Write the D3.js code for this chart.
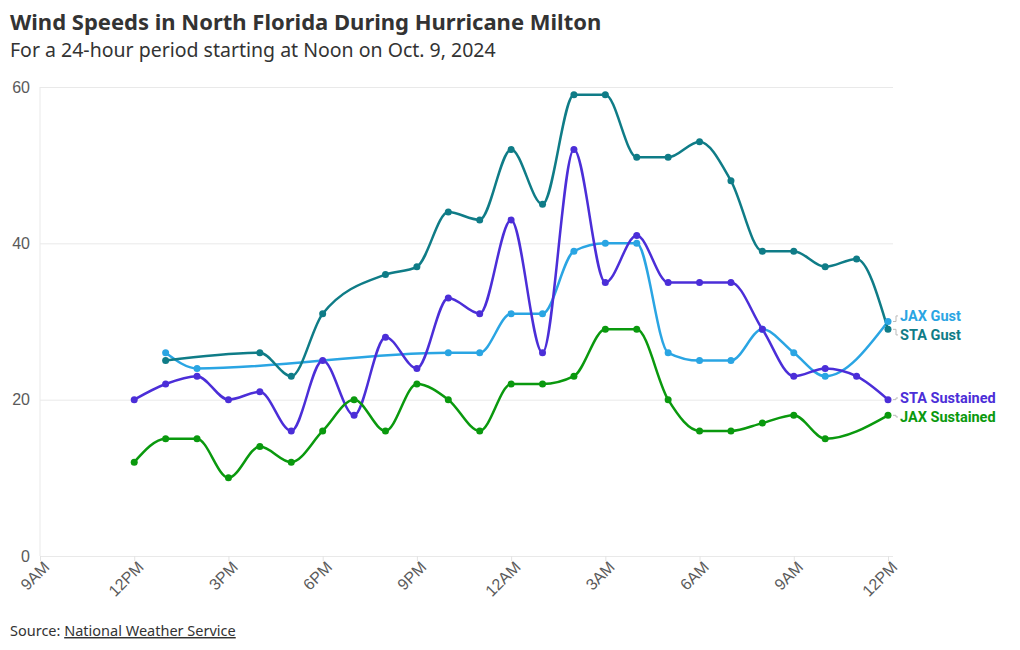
<!DOCTYPE html>
<html>
<head>
<meta charset="utf-8">
<script src="https://cdn.jsdelivr.net/npm/d3@7"></script>
<style>
  body { margin: 0; background: #fff; font-family: "Noto Sans", Roboto, sans-serif; }
  .title { font-size: 22px; font-weight: 700; fill: #333; }
  .subtitle { font-size: 19.5px; fill: #333; }
  .tick text { fill: #5a5a5a; font-size: 16px; }
  .source { font-size: 14.5px; fill: #333; }
  .label { font-family: Roboto, sans-serif; font-size: 14.5px; font-weight: 700; }
</style>
</head>
<body>
<svg id="chart" width="1020" height="650"></svg>
<script>
// hours after noon, Oct 9 2024 (0 = 12PM ... 24 = 12PM next day)
const hours = d3.range(0, 25);
const staGust      = [null, 25, null, null, 26, 23, 31, null, 36, 37, 44, 43, 52, 45, 59, 59, 51, 51, 53, 48, 39, 39, 37, 38, 29];
const jaxGust      = [null, 26, 24, null, null, null, null, null, null, null, 26, 26, 31, 31, 39, 40, 40, 26, 25, 25, 29, 26, 23, null, 30];
const staSustained = [20, 22, 23, 20, 21, 16, 25, 18, 28, 24, 33, 31, 43, 26, 52, 35, 41, 35, 35, 35, 29, 23, 24, 23, 20];
const jaxSustained = [12, 15, 15, 10, 14, 12, 16, 20, 16, 22, 20, 16, 22, 22, 23, 29, 29, 20, 16, 16, 17, 18, 15, null, 18];
const yTicks = [0, 20, 40, 60];

const series = [
  { name: "JAX Gust", values: jaxGust, color: "#2aa5e3" },
  { name: "STA Gust", values: staGust, color: "#0f7c87" },
  { name: "STA Sustained", values: staSustained, color: "#4b2ed8" },
  { name: "JAX Sustained", values: jaxSustained, color: "#0a990e" }
];

const start = new Date(2024, 9, 9, 12);
const hourDate = h => d3.timeHour.offset(start, h);

const svg = d3.select("#chart");
const margin = { top: 87, right: 132, bottom: 94, left: 40 },
      width = 1020 - margin.left - margin.right,
      height = 650 - margin.top - margin.bottom;

const x = d3.scaleTime()
            .domain([new Date(2024, 9, 9, 9), new Date(2024, 9, 10, 12)])
            .range([0, width]);
const y = d3.scaleLinear().domain([0, 60]).range([height, 0]);

// titles
svg.append("text").attr("class", "title").attr("x", 10).attr("y", 30)
   .text("Wind Speeds in North Florida During Hurricane Milton");
svg.append("text").attr("class", "subtitle").attr("x", 10).attr("y", 57)
   .text("For a 24-hour period starting at Noon on Oct. 9, 2024");

const g = svg.append("g").attr("transform", `translate(${margin.left},${margin.top})`);

// grid
g.append("g")
 .call(d3.axisLeft(y).tickValues(yTicks).tickSize(-width - 5).tickPadding(10))
 .call(a => a.select(".domain").remove())
 .call(a => a.selectAll(".tick line").attr("stroke", "#e9e9e9").attr("x1", 0))
 .call(a => a.selectAll(".tick text").attr("x", -10).attr("dy", "0.32em"));

// vertical axis line
g.append("line").attr("x1", 0).attr("x2", 0).attr("y1", 0).attr("y2", height)
 .attr("stroke", "#e9e9e9");

// x axis
g.append("g")
 .attr("transform", `translate(0,${height})`)
 .call(d3.axisBottom(x).ticks(d3.timeHour.every(3)).tickFormat(d3.timeFormat("%-I%p")).tickSize(5))
 .call(a => a.select(".domain").remove())
 .call(a => a.selectAll(".tick line").attr("stroke", "#e3e3e3"))
 .call(a => a.selectAll(".tick text")
            .attr("text-anchor", "end")
            .attr("transform", "translate(6,8) rotate(-45)")
            .attr("dy", "0.35em").attr("y", 0).attr("x", 0));

const line = d3.line()
               .defined(d => d.v != null)
               .x(d => x(d.t))
               .y(d => y(d.v))
               .curve(d3.curveMonotoneX);

series.forEach(s => {
  const pts = hours.map((h, i) => ({ t: hourDate(h), v: s.values[i] })).filter(d => d.v != null);
  s.pts = pts;
  g.append("path").datum(pts)
   .attr("fill", "none").attr("stroke", s.color)
   .attr("stroke-width", 2.5).attr("d", line);
});

series.forEach(s => {
  g.selectAll(null).data(s.pts).enter().append("circle")
   .attr("cx", d => x(d.t)).attr("cy", d => y(d.v))
   .attr("r", 3.5).attr("fill", s.color);
});

// end labels with simple collision avoidance
const labels = series.map(s => {
  const last = s.pts[s.pts.length - 1];
  return { s, y0: y(last.v), y: y(last.v), x0: x(last.t) };
}).sort((a, b) => a.y0 - b.y0);
const gap = 19;
for (let k = 0; k < 20; k++) {
  for (let i = 1; i < labels.length; i++) {
    const a = labels[i - 1], b = labels[i];
    if (b.y - a.y < gap) {
      const mid = (a.y + b.y) / 2;
      a.y = mid - gap / 2; b.y = mid + gap / 2;
    }
  }
}
labels.forEach(l => {
  g.append("path")
   .attr("d", `M${l.x0 + 5},${l.y0} L${l.x0 + 8},${l.y0} L${l.x0 + 8},${l.y} L${l.x0 + 10},${l.y}`)
   .attr("fill", "none").attr("stroke", "#bbb").attr("stroke-width", 1);
  g.append("text").attr("class", "label")
   .attr("x", l.x0 + 12).attr("y", l.y).attr("dy", "0.35em")
   .attr("fill", l.s.color)
   .text(l.s.name);
});

// source
const src = svg.append("text").attr("class", "source").attr("x", 10).attr("y", 636);
src.append("tspan").text("Source: ");
src.append("tspan").attr("text-decoration", "underline").text("National Weather Service");
</script>
</body>
</html>
